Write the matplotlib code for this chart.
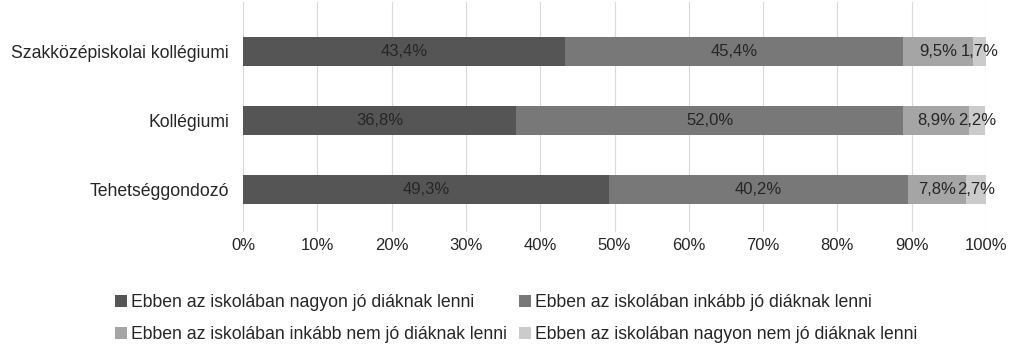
import numpy as np
import matplotlib.pyplot as plt

plt.rcParams['font.family'] = ['Liberation Sans', 'DejaVu Sans']

categories = ["Szakközépiskolai kollégiumi", "Kollégiumi", "Tehetséggondozó"]
series_names = ["Ebben az iskolában nagyon jó diáknak lenni",
                "Ebben az iskolában inkább jó diáknak lenni",
                "Ebben az iskolában inkább nem jó diáknak lenni",
                "Ebben az iskolában nagyon nem jó diáknak lenni"]
nagyon_jo = [43.4, 36.8, 49.3]
inkabb_jo = [45.4, 52.0, 40.2]
inkabb_nem = [9.5, 8.9, 7.8]
nagyon_nem = [1.7, 2.2, 2.7]
colors = ["#555555", "#787878", "#a5a5a5", "#cbcbcb"]

fig = plt.figure(figsize=(10.24, 3.5), dpi=100)
ax = fig.add_axes([243/1024, 1 - 232/350, (986-243)/1024, 230/350])

y = np.arange(len(categories))
left = np.zeros(len(categories))
handles = []
for vals, name, c in zip([nagyon_jo, inkabb_jo, inkabb_nem, nagyon_nem], series_names, colors):
    bars = ax.barh(y, vals, left=left, height=0.42, color=c, label=name, zorder=2)
    handles.append(bars)
    for i, v in enumerate(vals):
        ax.text(left[i] + v / 2, y[i], ("%.1f%%" % v).replace(".", ","),
                ha="center", va="center", fontsize=12, color="#262626", zorder=3)
    left = left + np.array(vals)

ax.set_xlim(0, 100)
ax.set_ylim(2.61, -0.71)
ax.set_xticks(np.arange(0, 101, 10))
ax.set_xticklabels(["%d%%" % t for t in range(0, 101, 10)], fontsize=12, color="#262626")
ax.set_yticks(y)
ax.set_yticklabels(categories, fontsize=12.7, color="#262626")
ax.tick_params(length=0, pad=10)
ax.tick_params(axis="x", pad=4)
ax.grid(axis="x", color="#d9d9d9", linewidth=0.8, zorder=0)
for s in ax.spines.values():
    s.set_visible(False)

# legend rows: 1-2 on top, 3-4 below
order = [0, 2, 1, 3]
fig.legend([handles[i] for i in order], [series_names[i] for i in order],
           loc="upper left", bbox_to_anchor=(99/1024, 1 - 278/350), ncol=2, frameon=False,
           fontsize=12.7, handlelength=0.7, handleheight=0.7, handletextpad=0.2,
           columnspacing=0.7, labelspacing=0.85, labelcolor="#262626",
           borderpad=0.4)

fig.savefig("out.png", dpi=100)
